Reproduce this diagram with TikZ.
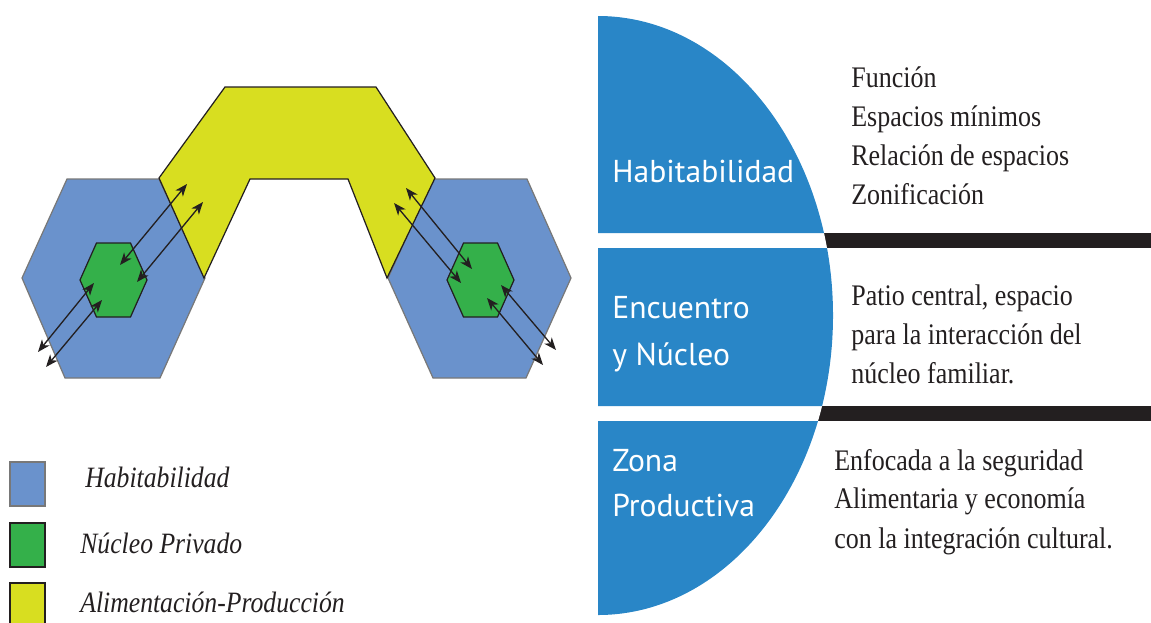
\documentclass[tikz,border=0pt]{standalone}
\usepackage{fontspec}
\setmainfont{Liberation Serif}
\newfontfamily\zonefont{PT Sans}
\newfontfamily\descfont[FakeStretch=0.87]{Liberation Serif}
\usepackage{tikz}
\usetikzlibrary{arrows.meta, positioning, calc}
\definecolor{mydark}{RGB}{35,31,32}
\definecolor{hexblue}{RGB}{106,146,204}
\definecolor{hexedge}{RGB}{120,120,120}
\definecolor{nucgreen}{RGB}{52,176,74}
\definecolor{prodyellow}{RGB}{216,222,32}
\definecolor{discblue}{RGB}{41,134,199}
\tikzset{
  hexcell/.style={fill=hexblue, draw=hexedge, line width=0.7pt},
  nucleus/.style={fill=nucgreen, draw=mydark, line width=0.7pt},
  prodzone/.style={fill=prodyellow, draw=mydark, line width=0.7pt},
  link/.style={{Stealth[length=7pt,width=5.5pt,inset=2pt]}-{Stealth[length=7pt,width=5.5pt,inset=2pt]},
    line width=0.75pt, color=mydark},
  zonelabel/.style={anchor=base west, inner sep=0pt, text=white,
    font=\zonefont\fontsize{18}{22}\selectfont},
  desc/.style={anchor=base west, inner sep=0pt, text=mydark,
    font=\descfont\fontsize{17}{20}\selectfont},
  legendtext/.style={anchor=base west, inner sep=0pt, text=mydark,
    font=\descfont\itshape\fontsize{16.8}{20}\selectfont},
  legendbox/.style={line width=1.1pt}
}

\begin{document}
\begin{tikzpicture}[x=0.02cm, y=-0.02cm]
  \useasboundingbox (0,0) rectangle (1151,622);
  \clip (0,0) rectangle (1151,622);

  % Habitabilidad hexagons
  \begin{scope}[shift={(113,278)}]
    \draw[hexcell] (-91,0) -- (-46,-99) -- (46,-99) -- (92,0) -- (47,100) -- (-48,100) -- cycle;
  \end{scope}
  \begin{scope}[shift={(480,278)}]
    \draw[hexcell] (-92,0) -- (-47,-99) -- (47,-99) -- (91,0) -- (46,100) -- (-47,100) -- cycle;
  \end{scope}

  % Alimentacion-Produccion band
  \draw[prodzone] (159,178) -- (225,87) -- (376,87) -- (435,178) -- (387,278)
    -- (348,179) -- (250,179) -- (204,278) -- cycle;

  % Nucleo privado
  \foreach \cx in {113.5,480.5}{
    \begin{scope}[shift={(\cx,280)}]
      \draw[nucleus] (-33.5,0) -- (-17,-37) -- (17,-37) -- (33.5,0) -- (17,37) -- (-17,37) -- cycle;
    \end{scope}
  }

  % Relations between the zones
  \foreach \i/\ax/\ay/\bx/\by in {1/120/265/187/184, 2/137/282/203/202,
      3/94/283/38/352, 4/102/300/46/367,
      5/472/269/406/188, 6/461/283/394/203,
      7/501/285/556/350, 8/487/298/543/365}{
    \coordinate (in\i) at (\ax,\ay);
    \coordinate (out\i) at (\bx,\by);
    \draw[link] (in\i) -- (out\i);
  }

  % Separator bars
  \fill[mydark] (598,233) rectangle (1151,248);
  \fill[mydark] (598,406) rectangle (1151,421);

  % Half disc
  \fill[white] (598,16) arc[start angle=-90, end angle=90, x radius=235, y radius=299.5] -- cycle;
  \begin{scope}
    \clip (590,10) rectangle (840,233) (590,248) rectangle (840,406) (590,421) rectangle (840,620);
    \fill[discblue] (598,16) arc[start angle=-90, end angle=90, x radius=235, y radius=299.5] -- cycle;
  \end{scope}

  % Zone labels
  \node[zonelabel] (habit) at (612,182) {Habitabilidad};
  \node[zonelabel] (encu1) at (612,318) {Encuentro};
  \node[zonelabel] (encu2) at (612,365) {y Núcleo};
  \node[zonelabel] (prod1) at (612,471) {Zona};
  \node[zonelabel] (prod2) at (612,516) {Productiva};

  % Descriptions
  \node[desc] (hab-d1) at (851,87) {Función};
  \node[desc] (hab-d2) at (851,126) {Espacios mínimos};
  \node[desc] (hab-d3) at (851,165) {Relación de espacios};
  \node[desc] (hab-d4) at (851,204) {Zonificación};

  \node[desc] (enc-d1) at (851,305) {Patio central, espacio};
  \node[desc] (enc-d2) at (851,344) {para la interacción del};
  \node[desc] (enc-d3) at (851,383) {núcleo familiar.};

  \node[desc] (pro-d1) at (834,470) {Enfocada a la seguridad};
  \node[desc] (pro-d2) at (834,508) {Alimentaria y economía};
  \node[desc] (pro-d3) at (834,548) {con la integración cultural.};

  % Legend
  \draw[legendbox, fill=hexblue, draw=hexedge] (10,462) rectangle (45,506);
  \draw[legendbox, fill=nucgreen, draw=mydark] (10,523) rectangle (45,567);
  \draw[legendbox, fill=prodyellow, draw=mydark] (10,583) rectangle (45,630);
  \node[legendtext] (leg-hab) at (85,487) {Habitabilidad};
  \node[legendtext] (leg-nuc) at (80,553) {Núcleo Privado};
  \node[legendtext] (leg-pro) at (80,612) {Alimentación-Producción};
\end{tikzpicture}
\end{document}
